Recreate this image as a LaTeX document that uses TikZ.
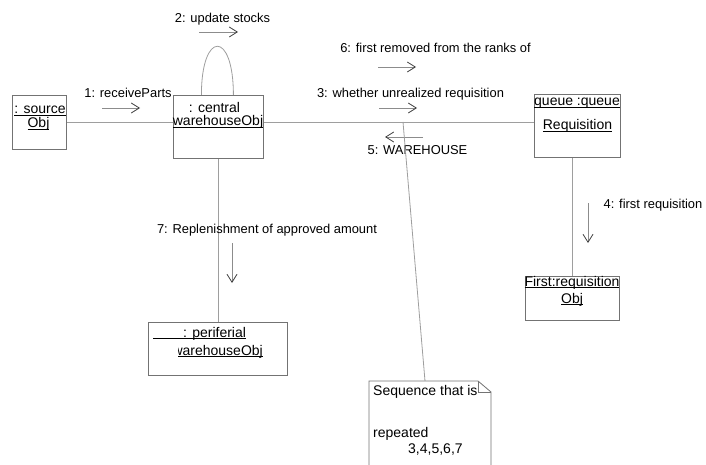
\documentclass[tikz,border=0pt]{standalone}
\usepackage{fontspec}
\setmainfont{Liberation Sans}
\usetikzlibrary{arrows.meta}

% underlined object name: rule drawn just under the baseline
\newcommand\ulw[1]{\setbox0=\hbox{#1}\rlap{\rule[-2pt]{\wd0}{0.6pt}}\box0}

\tikzset{
  lbl/.style={font=\fontsize{12.9}{15}\selectfont, inner sep=0, anchor=base},
  btxt/.style={font=\fontsize{14}{17}\selectfont, inner sep=0, anchor=base},
  objbox/.style={draw=black!55, line width=0.8pt, inner sep=0, anchor=north west},
  conn/.style={draw=black!38, line width=0.8pt},
  msg/.style={draw=black!45, line width=0.8pt,
    -{Straight Barb[length=8pt,width=10pt,color=black!75]}},
  notebox/.style={draw=black!55, line width=0.8pt, fill=white},
}

\begin{document}
\begin{tikzpicture}[x=1pt, y=-1pt]
\useasboundingbox (0,0) rectangle (706,465);

% object boxes
\node[objbox, minimum width=54pt,  minimum height=54pt] (src)     at (12,95)  {};
\node[objbox, minimum width=90pt,  minimum height=63pt] (central) at (173,95) {};
\node[objbox, minimum width=86pt,  minimum height=63pt] (queue)   at (534,94) {};
\node[objbox, minimum width=94pt,  minimum height=44pt] (first)   at (525,276) {};
\node[objbox, minimum width=139pt, minimum height=53pt] (peri)    at (148,322) {};

% links between the objects
\draw[conn] (src.east) -- (src.east -| central.west);
\draw[conn] (central.east |- src.east) -- (queue.west |- src.east);
\draw[conn] (central.south) -- (central.south |- peri.north);
\draw[conn] (first.north |- queue.south) -- (first.north);
\draw[conn] ([xshift=-17pt]central.north) .. controls ([xshift=-17pt,yshift=65pt]central.north)
  and ([xshift=15pt,yshift=65pt]central.north) .. ([xshift=15pt]central.north);

% object names
\node[btxt] (srcA) at (40,114)  {\ulw{: source}};
\node[btxt] (srcB) at (38.5,127.5) {\ulw{Obj}};
\node[btxt] (cenA) at (214.5,113) {: central};
\node[btxt] (cenB) at (218,126) {\ulw{warehouseObj}};
\node[btxt] (queA) at (577,106) {\ulw{queue :queue}};
\node[btxt] (queB) at (577.5,129.5) {\ulw{Requisition}};
\node[btxt] (firA) at (572,286) {\ulw{First:requisition}};
\node[btxt] (firB) at (572,303) {\ulw{Obj}};
\node[btxt, anchor=base west] (perA) at (153,337) {\ulw{\hspace{30pt}: periferial}};
\begin{scope}
  \clip (178,323) rectangle (286,374);
  \node[btxt, anchor=base east] (perB) at (263,355) {\ulw{warehouseObj}};
\end{scope}

% message labels
\node[lbl] (l1) at (128,98)    {1: receiveParts};
\node[lbl] (l2) at (222.5,22.5) {2: update stocks};
\node[lbl] (l3) at (410.5,98)  {3: whether unrealized requisition};
\node[lbl] (l4) at (653,208)   {4: first requisition};
\node[lbl] (l5) at (417.5,155) {5: WAREHOUSE};
\node[lbl] (l6) at (435.5,53)  {6: first removed from the ranks of};
\node[lbl] (l7) at (267,233)   {7: Replenishment of approved amount};

% message arrows
\coordinate (m1a) at (102,108); \coordinate (m1b) at (140,108);
\coordinate (m2a) at (199,32);  \coordinate (m2b) at (238,32);
\coordinate (m3a) at (379,108); \coordinate (m3b) at (417,108);
\coordinate (m4a) at (588,203); \coordinate (m4b) at (588,243);
\coordinate (m5a) at (423,137); \coordinate (m5b) at (385,137);
\coordinate (m6a) at (378,67);  \coordinate (m6b) at (416,67);
\coordinate (m7a) at (232,243); \coordinate (m7b) at (232,283);
\foreach \m in {1,...,7} \draw[msg] (m\m a) -- (m\m b);

% note attached to the central--queue link
\coordinate (anc) at (403,122);
\coordinate (notetop) at (425,381);
\draw[conn] (anc) -- (notetop);
\draw[notebox] (369,470) -- (369,381) -- (478,381) -- (491,392) -- (491,470);
\draw[draw=black!55, line width=0.6pt] (478,381) -- (478,392) -- (491,392);
\node[btxt, anchor=base west] (n1) at (373,395) {Sequence that is};
\node[btxt, anchor=base west] (n2) at (373,437) {repeated};
\node[btxt, anchor=base west] (n3) at (408,453) {3,4,5,6,7};
\end{tikzpicture}
\end{document}
